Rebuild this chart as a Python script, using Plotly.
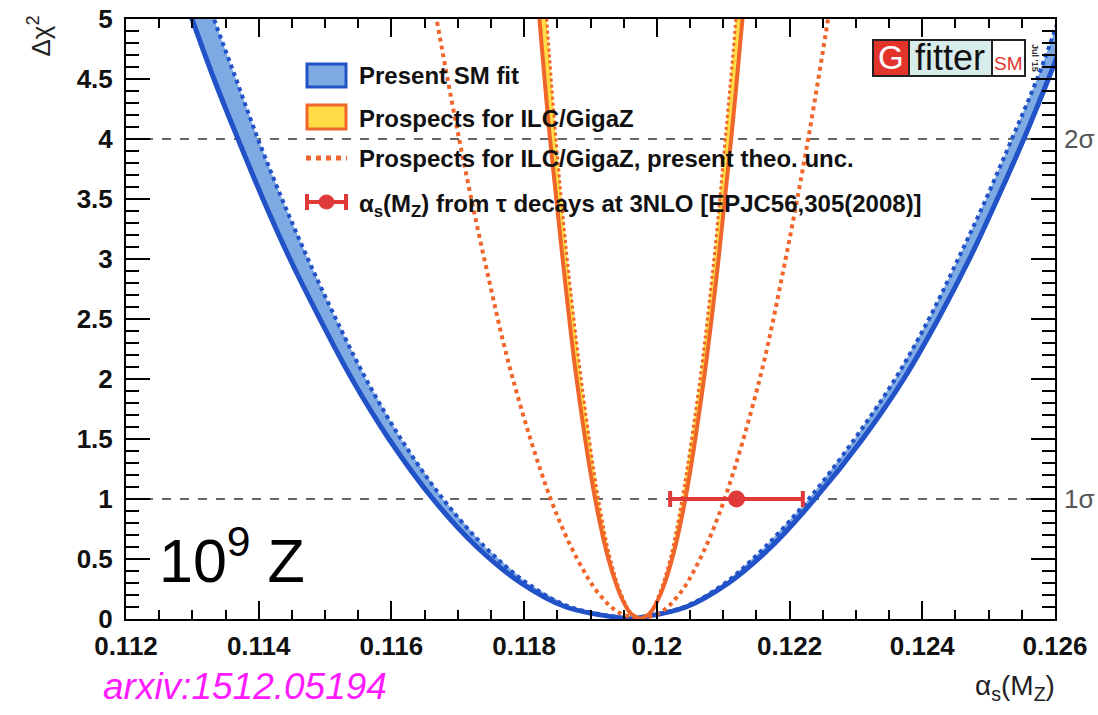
import plotly.graph_objects as go

# ---- Δχ² levels at which the scan curves are sampled ----
lvl_blue = [5.5, 5, 4.5, 4, 3.5, 3, 2.5, 2, 1.5, 1, 0.6, 0.3, 0.1, 0]

# Present SM fit: outer (solid) and inner (dotted) scan curves
sm_out_left = [0.112678, 0.112995, 0.113326, 0.113688, 0.114064, 0.114471, 0.114923,
               0.115405, 0.115963, 0.116626, 0.117289, 0.117952, 0.118630, 0.119600]
sm_out_right = [0.12660, 0.12625, 0.12590, 0.12553, 0.12513, 0.12471, 0.12424,
                0.12372, 0.12310, 0.12238, 0.12172, 0.12108, 0.12044, 0.119600]
sm_in_left = [0.113025, 0.113326, 0.113658, 0.113989, 0.114351, 0.114742, 0.115164,
              0.115616, 0.116144, 0.116777, 0.117410, 0.118042, 0.118690, 0.119600]
sm_in_right = [0.12638, 0.12606, 0.12573, 0.12535, 0.12496, 0.12454, 0.12410,
               0.12359, 0.12298, 0.12229, 0.12163, 0.12103, 0.12041, 0.119600]

# ILC/GigaZ prospects
lvl_ilc = [5.5, 5, 4, 3, 2, 1, 0.5, 0.2, 0.05, 0]
ilc_out_left = [0.11816, 0.11823, 0.11839, 0.11858, 0.11879, 0.11907, 0.11927, 0.11945, 0.11960, 0.11975]
ilc_out_right = [0.12136, 0.12129, 0.12112, 0.12093, 0.12071, 0.12043, 0.12023, 0.12005, 0.11990, 0.11975]
ilc_in_left = [0.11827, 0.11834, 0.11848, 0.11865, 0.11886, 0.11912, 0.11930, 0.11947, 0.11961, 0.11975]
ilc_in_right = [0.12125, 0.12119, 0.12103, 0.12086, 0.12065, 0.12038, 0.12020, 0.12003, 0.11989, 0.11975]

# ILC/GigaZ prospects with present theoretical uncertainty
ilc_theo_left = [0.11652, 0.11668, 0.11702, 0.11740, 0.11783, 0.11840, 0.11880, 0.11914, 0.11944, 0.11975]
ilc_theo_right = [0.12272, 0.12258, 0.12228, 0.12194, 0.12155, 0.12102, 0.12065, 0.12033, 0.12004, 0.11975]

# alpha_s from tau decays
tau_alpha = [0.1212]
tau_err = [0.0010]
tau_dchi2 = [1]

x_ticks = [0.112, 0.114, 0.116, 0.118, 0.120, 0.122, 0.124, 0.126]
x_ticklabels = ["0.112", "0.114", "0.116", "0.118", "0.12", "0.122", "0.124", "0.126"]
y_ticks = [0, 0.5, 1, 1.5, 2, 2.5, 3, 3.5, 4, 4.5, 5]
y_ticklabels = ["0", "0.5", "1", "1.5", "2", "2.5", "3", "3.5", "4", "4.5", "5"]

BLUE_LINE = "#2152c8"
BLUE_FILL = "#7eaae4"
ORANGE = "#f0662a"
YELLOW = "#ffdc46"
RED = "#e0393a"
FONT = "Liberation Sans"


def curve(left, right, levels):
    xs = list(left) + list(reversed(right))
    ys = list(levels) + list(reversed(levels))
    return xs, ys


fig = go.Figure()

# SM fit band
xo, yo = curve(sm_out_left, sm_out_right, lvl_blue)
xi, yi = curve(sm_in_left, sm_in_right, lvl_blue)
fig.add_trace(go.Scatter(x=xo + list(reversed(xi)), y=yo + list(reversed(yi)),
                         fill="toself", fillcolor=BLUE_FILL, mode="none",
                         hoverinfo="skip", showlegend=False))
fig.add_trace(go.Scatter(x=xi, y=yi, mode="lines",
                         line=dict(color=BLUE_LINE, width=4, dash="dot", shape="spline", smoothing=1.0),
                         showlegend=False))
fig.add_trace(go.Scatter(x=xo, y=yo, mode="lines",
                         line=dict(color=BLUE_LINE, width=5, shape="spline", smoothing=1.0),
                         showlegend=False))

# ILC/GigaZ with present theory uncertainty (wide dotted)
xt, yt = curve(ilc_theo_left, ilc_theo_right, lvl_ilc)
fig.add_trace(go.Scatter(x=xt, y=yt, mode="lines",
                         line=dict(color=ORANGE, width=4, dash="dot", shape="spline", smoothing=1.0),
                         showlegend=False))

# ILC/GigaZ band
xo2, yo2 = curve(ilc_out_left, ilc_out_right, lvl_ilc)
xi2, yi2 = curve(ilc_in_left, ilc_in_right, lvl_ilc)
fig.add_trace(go.Scatter(x=xo2 + list(reversed(xi2)), y=yo2 + list(reversed(yi2)),
                         fill="toself", fillcolor=YELLOW, mode="none",
                         hoverinfo="skip", showlegend=False))
fig.add_trace(go.Scatter(x=xi2, y=yi2, mode="lines",
                         line=dict(color=ORANGE, width=3, dash="dot", shape="spline", smoothing=1.0),
                         showlegend=False))
fig.add_trace(go.Scatter(x=xo2, y=yo2, mode="lines",
                         line=dict(color=ORANGE, width=4, shape="spline", smoothing=1.0),
                         showlegend=False))

# tau decay measurement
fig.add_trace(go.Scatter(x=tau_alpha, y=tau_dchi2, mode="markers",
                         marker=dict(color=RED, size=17),
                         error_x=dict(type="data", array=tau_err, color=RED, thickness=4, width=8),
                         showlegend=False))

shapes = []
# 1 sigma / 2 sigma reference lines
for lev in (1, 4):
    shapes.append(dict(type="line", xref="paper", yref="y", x0=0, x1=1, y0=lev, y1=lev,
                       line=dict(color="#666666", width=2, dash="dash"), layer="below"))


def px(x):
    return (x - 126) / 929.0


def py(y):
    return (619 - y) / 600.0


# legend symbols
shapes += [
    dict(type="rect", xref="paper", yref="paper", x0=px(307), x1=px(346), y0=py(87), y1=py(64),
         fillcolor=BLUE_FILL, line=dict(color=BLUE_LINE, width=3)),
    dict(type="rect", xref="paper", yref="paper", x0=px(307), x1=px(346), y0=py(129), y1=py(105),
         fillcolor=YELLOW, line=dict(color=ORANGE, width=3)),
    dict(type="line", xref="paper", yref="paper", x0=px(306), x1=px(347), y0=py(158), y1=py(158),
         line=dict(color=ORANGE, width=5, dash="dot")),
    dict(type="line", xref="paper", yref="paper", x0=px(306), x1=px(347), y0=py(202), y1=py(202),
         line=dict(color=RED, width=4)),
    dict(type="line", xref="paper", yref="paper", x0=px(307), x1=px(307), y0=py(194), y1=py(210),
         line=dict(color=RED, width=4)),
    dict(type="line", xref="paper", yref="paper", x0=px(346), x1=px(346), y0=py(194), y1=py(210),
         line=dict(color=RED, width=4)),
    dict(type="circle", xref="paper", yref="paper", x0=px(319), x1=px(334), y0=py(209), y1=py(195),
         fillcolor=RED, line=dict(color=RED, width=1)),
]

# Gfitter logo
shapes += [
    dict(type="rect", xref="paper", yref="paper", x0=px(873), x1=px(909), y0=py(76), y1=py(40),
         fillcolor="#e3342c", line=dict(color="#222222", width=2)),
    dict(type="rect", xref="paper", yref="paper", x0=px(909), x1=px(992), y0=py(76), y1=py(40),
         fillcolor="#d9ecec", line=dict(color="#222222", width=2)),
    dict(type="rect", xref="paper", yref="paper", x0=px(992), x1=px(1025), y0=py(76), y1=py(40),
         fillcolor="white", line=dict(color="#222222", width=2)),
]

legend_font = dict(family=FONT, size=24, color="#111111", weight="bold")
annotations = [
    dict(text="Present SM fit", x=px(357), y=py(76), xref="paper", yref="paper",
         xanchor="left", yanchor="middle", showarrow=False, font=legend_font),
    dict(text="Prospects for ILC/GigaZ", x=px(357), y=py(118), xref="paper", yref="paper",
         xanchor="left", yanchor="middle", showarrow=False, font=legend_font),
    dict(text="Prospects for ILC/GigaZ, present theo. unc.", x=px(357), y=py(159), xref="paper",
         yref="paper", xanchor="left", yanchor="middle", showarrow=False, font=legend_font),
    dict(text="α<sub>s</sub>(M<sub>Z</sub>) from τ decays at 3NLO [EPJC56,305(2008)]",
         x=px(357), y=py(205), xref="paper", yref="paper",
         xanchor="left", yanchor="middle", showarrow=False, font=legend_font),
    # sigma labels
    dict(text="2σ", x=1.007, y=4, xref="paper", yref="y", xanchor="left", yanchor="middle",
         showarrow=False, font=dict(family=FONT, size=26, color="#555555")),
    dict(text="1σ", x=1.007, y=1, xref="paper", yref="y", xanchor="left", yanchor="middle",
         showarrow=False, font=dict(family=FONT, size=26, color="#555555")),
    # axis titles
    dict(text="Δχ<sup>2</sup>", x=px(40), y=py(14), xref="paper", yref="paper", textangle=-90,
         xanchor="center", yanchor="top", showarrow=False,
         font=dict(family=FONT, size=26, color="#222222")),
    dict(text="α<sub>s</sub>(M<sub>Z</sub>)", x=px(1057), y=py(668), xref="paper", yref="paper",
         xanchor="right", yanchor="top", showarrow=False,
         font=dict(family=FONT, size=28, color="#222222")),
    # statistics label and reference
    dict(text="10<sup>9</sup> Z", x=px(157), y=py(556), xref="paper", yref="paper",
         xanchor="left", yanchor="middle", showarrow=False,
         font=dict(family=FONT, size=61, color="black")),
    dict(text="<i>arxiv:1512.05194</i>", x=px(101), y=py(686), xref="paper", yref="paper",
         xanchor="left", yanchor="middle", showarrow=False,
         font=dict(family=FONT, size=37, color="#ff1aff")),
    # Gfitter logo text
    dict(text="G", x=px(891), y=py(58), xref="paper", yref="paper", xanchor="center",
         yanchor="middle", showarrow=False, font=dict(family=FONT, size=33, color="white")),
    dict(text="fitter", x=px(950), y=py(57), xref="paper", yref="paper", xanchor="center",
         yanchor="middle", showarrow=False, font=dict(family=FONT, size=36, color="#111111")),
    dict(text="SM", x=px(1008), y=py(64), xref="paper", yref="paper", xanchor="center",
         yanchor="middle", showarrow=False, font=dict(family=FONT, size=19, color="#e3342c")),
    dict(text="Jul '15", x=px(1035), y=py(58), xref="paper", yref="paper", xanchor="center",
         yanchor="middle", textangle=90, showarrow=False,
         font=dict(family=FONT, size=9, color="#333333", weight="bold")),
]

tick_font = dict(family=FONT, size=26, color="#111111", weight="bold")

fig.update_layout(
    width=1098, height=715, autosize=False,
    margin=dict(l=126, r=43, t=19, b=96),
    paper_bgcolor="white", plot_bgcolor="white",
    shapes=shapes, annotations=annotations,
    showlegend=False,
    xaxis=dict(range=[0.112, 0.126], tickvals=x_ticks, ticktext=x_ticklabels,
               automargin=False,
               ticks="inside", ticklen=18, tickwidth=2, tickcolor="black",
               showline=True, linecolor="black", linewidth=2, mirror="ticks",
               showgrid=False, zeroline=False, tickfont=tick_font, ticklabelstandoff=3,
               minor=dict(dtick=0.0005, ticks="inside", ticklen=9, tickwidth=2,
                          tickcolor="black", showgrid=False)),
    yaxis=dict(range=[0, 5], tickvals=y_ticks, ticktext=y_ticklabels,
               automargin=False,
               ticks="inside", ticklen=24, tickwidth=2, tickcolor="black",
               showline=True, linecolor="black", linewidth=2, mirror="ticks",
               showgrid=False, zeroline=False, tickfont=tick_font, ticklabelstandoff=6,
               minor=dict(dtick=0.1, ticks="inside", ticklen=13, tickwidth=2,
                          tickcolor="black", showgrid=False)),
)

fig.write_html("out.html")
